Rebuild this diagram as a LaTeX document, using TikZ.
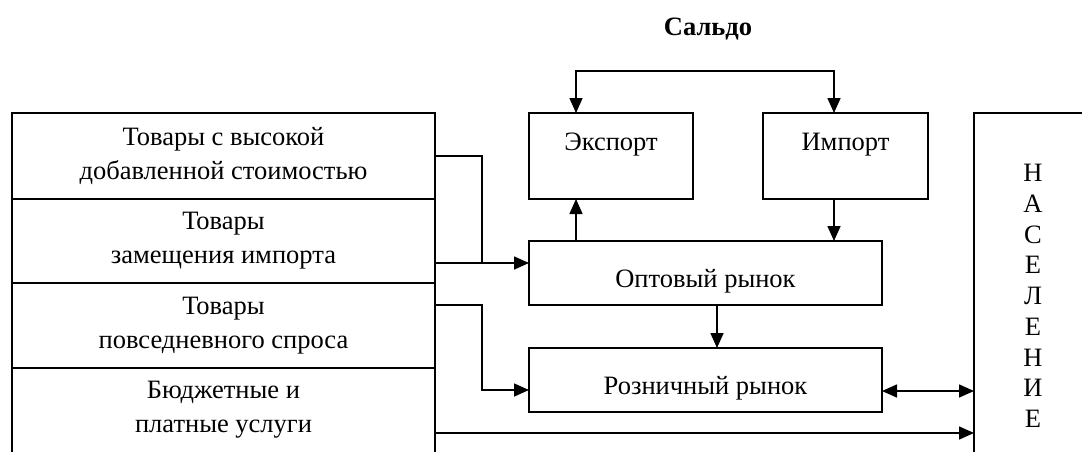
\documentclass[tikz,border=0pt]{standalone}
\usepackage{fontspec}
\setmainfont{Liberation Serif}
\usetikzlibrary{arrows.meta}
\begin{document}
\begin{tikzpicture}[x=1pt,y=-1pt,
  line width=1.6pt,
  every node/.style={font=\fontsize{26.5}{34}\selectfont, inner sep=0pt, outer sep=0pt},
  box/.style={draw, rectangle, align=center},
  arr/.style={-{Triangle[length=15pt,width=13pt]}},
  darr/.style={{Triangle[length=15pt,width=13pt]}-{Triangle[length=15pt,width=13pt]}}]
\useasboundingbox (0,0) rectangle (1082,451);
\clip (0,0) rectangle (1082,451);
% title
\node[font=\fontsize{26.5}{34}\selectfont\bfseries] (saldo) at (708,29) {Сальдо};
% left column
\node[box, minimum width=423pt, minimum height=86pt] (r1) at (223.5,156) {Товары с высокой\\добавленной стоимостью};
\node[box, minimum width=423pt, minimum height=84pt] (r2) at (223.5,241) {Товары\\замещения импорта};
\node[box, minimum width=423pt, minimum height=85pt] (r3) at (223.5,325.5) {Товары\\повседневного спроса};
\node[align=center, minimum width=423pt, minimum height=83pt] (r4) at (223.5,409.5) {Бюджетные и\\платные услуги};
\draw ([yshift=-10pt]r4.south west) -- (r4.north west) -- (r4.north east) -- ([yshift=-10pt]r4.south east);
% export / import
\node[box, minimum width=164pt, minimum height=86pt] (exp) at (611,156) {};
\node[anchor=north] (expt) at ([yshift=-20pt]exp.north) {Экспорт};
\node[box, minimum width=165pt, minimum height=86pt] (imp) at (845.5,156) {};
\node[anchor=north] (impt) at ([yshift=-20pt]imp.north) {Импорт};
% markets
\node[box, minimum width=353pt, minimum height=64pt] (whs) at (705.5,273) {};
\node (whst) at ([yshift=-8pt]whs.center) {Оптовый рынок};
\node[box, minimum width=353pt, minimum height=64pt] (ret) at (705.5,380) {};
\node (rett) at ([yshift=-8pt]ret.center) {Розничный рынок};
% population
\node[anchor=north west, minimum width=130pt, minimum height=360pt] (pop) at (974,113) {};
\draw (pop.south west) -- (pop.north west) -- (pop.north east);
\node[align=center, font=\fontsize{26.5}{30.75}\selectfont] (popt) at (1033,296) {Н\\А\\С\\Е\\Л\\Е\\Н\\И\\Е};
% saldo loop
\draw[darr] ([xshift=47pt]exp.north west) -- ++(0,-42) -| ([xshift=71pt]imp.north west);
% export / import links
\draw[arr] ([xshift=47pt]whs.north west) -- ([xshift=47pt]exp.south west);
\draw[arr] ([xshift=71pt]imp.south west) -- ([xshift=305pt]whs.north west);
\draw[arr] ([xshift=188pt]whs.south west) -- ([xshift=188pt]ret.north west);
% left connectors
\coordinate (j1) at (482,263);
\draw (r1.east) -| (j1);
\draw[arr] ([yshift=-22pt]r2.east) -- (whs.west |- j1);
\coordinate (j3) at (482,390);
\draw[arr] ([yshift=20.5pt]r3.east) -| (j3) -- (ret.west |- j3);
\coordinate (b4) at ([yshift=-23.5pt]r4.east);
\draw[arr] (b4) -- (b4 -| pop.west);
\coordinate (rr) at ([yshift=-11pt]ret.east);
\draw[darr] (rr) -- (rr -| pop.west);
\end{tikzpicture}
\end{document}
